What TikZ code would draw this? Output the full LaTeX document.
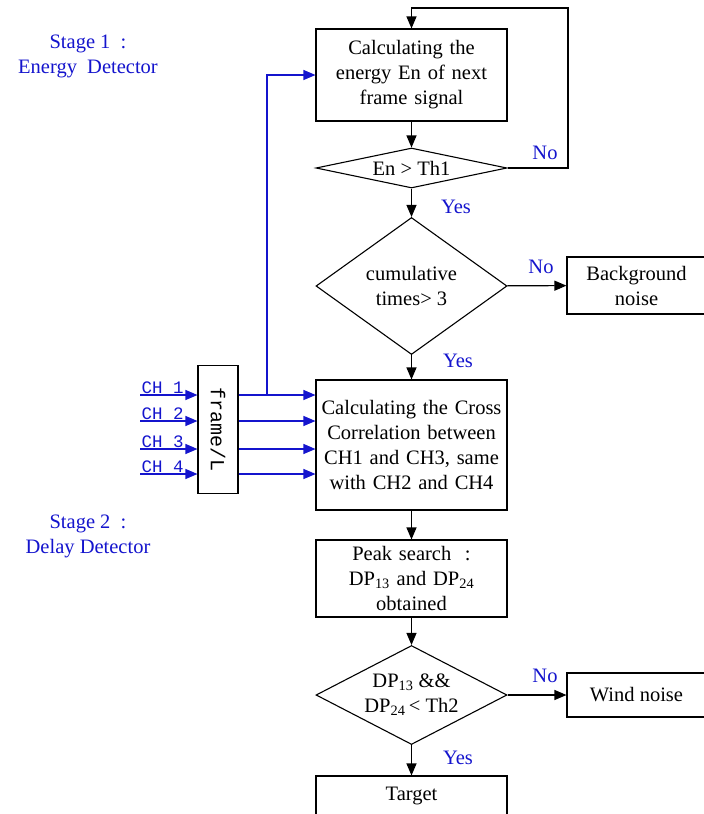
\documentclass[tikz,border=0pt]{standalone}
\usepackage{fontspec}
\setmainfont{Liberation Serif}
\newfontfamily\chfont{Liberation Mono}
\usepackage{tikz}
\usetikzlibrary{shapes.geometric, arrows.meta}
\definecolor{stageblue}{RGB}{20,20,205}

\begin{document}
\begin{tikzpicture}[x=1pt, y=-1pt, line width=1.1pt,
        font=\fontsize{20.5}{25}\selectfont,
        procbox/.style={draw, rectangle, minimum width=191, text width=188, align=center, inner sep=0},
        decbox/.style={draw, diamond, minimum width=191, inner sep=0, align=center},
        endbox/.style={draw, rectangle, minimum width=139, align=center, inner sep=0},
        arr/.style={-{Triangle[length=12pt,width=10pt]}},
        bluearr/.style={arr, stageblue},
        answer/.style={text=stageblue, inner sep=1pt},
        chlabel/.style={text=stageblue, font=\chfont\fontsize{17.5}{17.5}\selectfont, anchor=south west, inner sep=1pt}]
            \useasboundingbox (0,0) rectangle (704,814);
            \clip (0,0) rectangle (704,814);
            % stage labels
            \node[text=stageblue, align=center] (stageA) at (88,56) {Stage 1\ \ :\\Energy\ \ Detector};
            \node[text=stageblue, align=center] (stageB) at (88,536) {Stage 2\ \ :\\Delay Detector};
            % main column
            \node[procbox, minimum height=92] (calcEn) at (411.5,75) {Calculating the\\energy En of next\\frame signal};
            \node[decbox, aspect=5.5, minimum height=40] (decEn) at (411.5,168) {En > Th1};
            \node[decbox, aspect=1.4, minimum height=137] (decCum) at (411.5,286) {cumulative\\times> 3};
            \node[procbox, minimum height=130] (calcCorr) at (411.5,445) {Calculating the Cross\\Correlation between\\CH1 and CH3, same\\with CH2 and CH4};
            \node[procbox, minimum height=77] (peak) at (411.5,578.5) {Peak search\ \ :\\DP\textsubscript{13} and DP\textsubscript{24}\\obtained};
            \node[decbox, aspect=1.93, minimum height=99] (decDP) at (411.5,695) {DP\textsubscript{13} \&\&\\DP\textsubscript{24}\,< Th2};
            \node[procbox, minimum height=40] (target) at (411.5,796) {Target};
            % side outputs
            \node[endbox, minimum height=57] (noiseBg) at (636.5,285.5) {Background\\noise};
            \node[endbox, minimum height=44] (noiseWind) at (636.5,695) {Wind noise};
            \node[draw, rotate=-90, minimum width=128, minimum height=40, inner sep=0,
                  font=\chfont\fontsize{20}{20}\selectfont] (frameL) at (218,429.5) {frame/L};
            % connectors
            \coordinate (loopTop) at (568,8);
            \draw[arr] (calcEn) -- (decEn);
            \draw[arr] (decEn.east) -| (loopTop) -| (calcEn.north);
            \node[answer] (noA) at (545,153) {No};
            \draw[arr] (decEn) -- (decCum);
            \node[answer] (yesA) at (456,207) {Yes};
            \draw[arr] (decCum) -- (noiseBg);
            \node[answer] (noB) at (541,267) {No};
            \draw[arr] (decCum) -- (calcCorr);
            \node[answer] (yesB) at (458,361) {Yes};
            \draw[arr] (calcCorr) -- (peak);
            \draw[arr] (peak) -- (decDP);
            \draw[arr] (decDP) -- (noiseWind);
            \node[answer] (noC) at (545,676) {No};
            \draw[arr] (decDP) -- (target);
            \node[answer] (yesC) at (458,758) {Yes};
            % channel inputs (frameL is turned, so its south side is the left one)
            \foreach \y/\n in {395/1, 421/2, 449/3, 474/4} {
                \coordinate (in\n) at (140,\y);
                \node[chlabel] (lab\n) at (in\n) {CH \n};
                \draw[bluearr] (in\n) -- (frameL.south |- in\n);
                \draw[bluearr] (frameL.north |- in\n) -- (calcCorr.west |- in\n);
            }
            \coordinate (branch) at (267,395);
            \draw[bluearr] (branch) |- (calcEn.west);
        \end{tikzpicture}
\end{document}
